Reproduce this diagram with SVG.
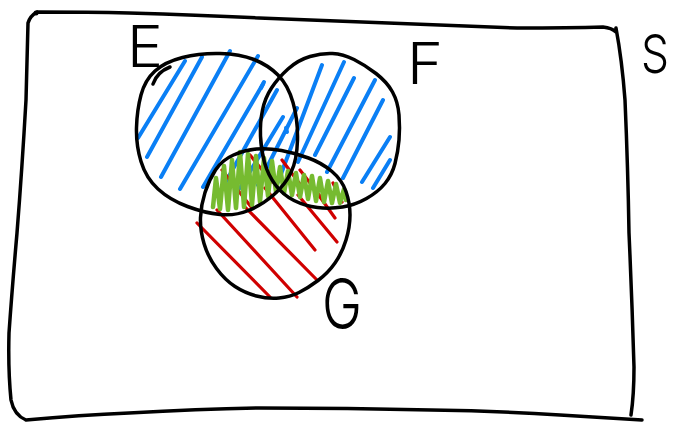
<svg xmlns="http://www.w3.org/2000/svg" width="676" height="422" viewBox="0 0 676 422">
<style>
.ink{fill:none;stroke:#000;stroke-width:3.5;stroke-linecap:round;stroke-linejoin:round}
.blue{fill:none;stroke:#0a7ff5;stroke-width:4;stroke-linecap:round}
.red{fill:none;stroke:#d00000;stroke-width:3.2;stroke-linecap:round}
.green{fill:none;stroke:#76bb30;stroke-width:4.5;stroke-linecap:round;stroke-linejoin:round}
.lbl{font-family:Inter,"Liberation Sans","DejaVu Sans",sans-serif;font-weight:300;fill:#000}
</style>
<rect width="676" height="422" fill="#fff"/>
<g id="blue-hatching">
<path class="blue" d="M138,138L185,61M147,157L202,57M161,177L230,51M180,189L258,56M203,187L263,84M223,187L277,90M240,188L283,117M258,185L297,108M278,182L322,65M298,162L344,62M315,155L354,78M327,172L375,80M343,178L383,100M362,182L390,137M373,188L390,160"/>
<path class="blue" stroke-width="7" d="M261,88L264,82M286,128L287,132"/>
</g>
<g id="red-hatching">
<path class="red" d="M197,223L270,297M217,210L297,297M245,207L317,280M265,188L315,250M298,195L337,242M315,190L335,218M333,183L342,202M222,170L252,208M250,155L272,182M282,160L302,187M300,170L320,196"/>
</g>
<g id="green-scribble">
<polyline class="green" points="213,207 216,178 220,209 224,166 228,210 232,160 236,208 240,152 244,207 248,154 252,205 256,156 260,202 264,158 268,196 272,161 276,192 280,167 284,193 288,171 292,195 296,173 300,197 304,175 308,199 312,176 316,201 320,178 324,202 328,181 332,203 336,184 340,203 344,189 346,200"/>
</g>
<g id="universe-S">
<path class="ink" d="M37,12 Q90,12 129,13 Q200,15 259,18 Q330,21 388,23 Q460,26 517,28 Q570,28 603,27 Q612,28 616,32 M616,28 Q622,60 625,100 Q628,170 629,233 Q632,300 634,367 Q634,395 631,415 M26,420 Q80,415 129,413 Q200,409 259,408 Q350,408 431,410 Q500,411 560,415 Q610,418 642,420 M37,12 Q30,16 28,23 Q27,60 26,100 Q22,170 17,233 Q12,290 9,333 Q8,370 11,400 Q14,415 26,420"/>
<circle cx="36" cy="13" r="2.5" fill="#000"/>
<text class="lbl" x="641" y="73" font-size="54" textLength="28" lengthAdjust="spacingAndGlyphs">S</text>
</g>
<g id="set-E">
<path class="ink" d="M141,95 Q145,80 155,71 Q165,62 182.5,57.5 Q200,53 220,53.5 Q240,54 254,59.5 Q268,65 278,75 Q288,85 293,102.5 Q298,120 297.5,140 Q297,160 291,172.5 Q285,185 273.5,195 Q262,205 248.5,210.5 Q235,216 220,214.5 Q205,213 187.5,206.5 Q170,200 158,189 Q146,178 141,161.5 Q136,145 136.5,127.5 Q137,110 141,95"/>
<path class="ink" d="M153,84 Q157,72 170,67"/>
<text class="lbl" x="127" y="67" font-size="58" textLength="36" lengthAdjust="spacingAndGlyphs">E</text>
</g>
<g id="set-F">
<path class="ink" d="M262.5,110 Q265,98 271.5,88 Q278,78 288,69 Q298,60 310,56.5 Q322,53 332.5,53.5 Q343,54 354,59.5 Q365,65 376,73.5 Q387,82 392.5,92 Q398,102 399,115 Q400,128 399,140 Q398,152 395,163.5 Q392,175 385,183.5 Q378,192 366.5,198.5 Q355,205 342.5,207 Q330,209 317.5,207.5 Q305,206 294,200.5 Q283,195 275.5,185 Q268,175 264.5,162.5 Q261,150 260.5,136 Q260,122 262.5,110"/>
<text class="lbl" x="407" y="84" font-size="57" textLength="36" lengthAdjust="spacingAndGlyphs">F</text>
</g>
<g id="set-G">
<path class="ink" d="M233.5,155 Q245,150 256.5,149 Q268,148 281.5,150.5 Q295,153 308.5,158 Q322,163 332,171.5 Q342,180 346,191.5 Q350,203 350,215 Q350,227 346,240 Q342,253 335,263 Q328,273 318,280.5 Q308,288 299,292.5 Q290,297 279,298 Q268,299 256.5,296 Q245,293 235,286.5 Q225,280 216.5,268.5 Q208,257 204,243.5 Q200,230 200.5,217.5 Q201,205 205,192.5 Q209,180 215.5,170 Q222,160 233.5,155"/>
<text class="lbl" x="322" y="329" font-size="70" textLength="40" lengthAdjust="spacingAndGlyphs">G</text>
</g>
</svg>
